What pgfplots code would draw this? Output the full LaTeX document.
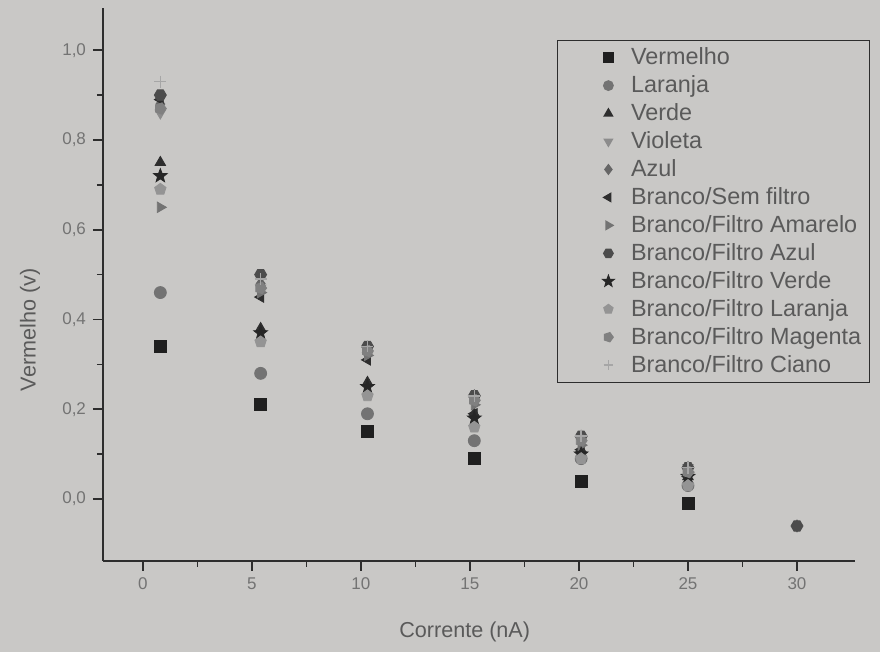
\documentclass[border=0pt]{standalone}
\usepackage{fontspec}
\setmainfont{Liberation Sans}
\usepackage{pgfplots}
\pgfplotsset{compat=1.18}
\definecolor{bg}{RGB}{201,200,198}
\definecolor{axc}{RGB}{45,45,45}
\definecolor{lblc}{RGB}{90,90,90}
\definecolor{tickc}{RGB}{115,115,115}
\pgfdeclareplotmark{hexagon*}{%
  \pgfpathmoveto{\pgfpointpolar{0}{\pgfplotmarksize}}%
  \pgfpathlineto{\pgfpointpolar{60}{\pgfplotmarksize}}%
  \pgfpathlineto{\pgfpointpolar{120}{\pgfplotmarksize}}%
  \pgfpathlineto{\pgfpointpolar{180}{\pgfplotmarksize}}%
  \pgfpathlineto{\pgfpointpolar{240}{\pgfplotmarksize}}%
  \pgfpathlineto{\pgfpointpolar{300}{\pgfplotmarksize}}%
  \pgfpathclose\pgfusepathqfillstroke}
\pgfdeclareplotmark{fstar}{%
  \pgfpathmoveto{\pgfpointpolar{90}{1.2\pgfplotmarksize}}%
  \pgfpathlineto{\pgfpointpolar{126}{0.5\pgfplotmarksize}}%
  \pgfpathlineto{\pgfpointpolar{162}{1.2\pgfplotmarksize}}%
  \pgfpathlineto{\pgfpointpolar{198}{0.5\pgfplotmarksize}}%
  \pgfpathlineto{\pgfpointpolar{234}{1.2\pgfplotmarksize}}%
  \pgfpathlineto{\pgfpointpolar{270}{0.5\pgfplotmarksize}}%
  \pgfpathlineto{\pgfpointpolar{306}{1.2\pgfplotmarksize}}%
  \pgfpathlineto{\pgfpointpolar{342}{0.5\pgfplotmarksize}}%
  \pgfpathlineto{\pgfpointpolar{18}{1.2\pgfplotmarksize}}%
  \pgfpathlineto{\pgfpointpolar{54}{0.5\pgfplotmarksize}}%
  \pgfpathclose\pgfusepathqfillstroke}
\begin{document}
\begin{tikzpicture}
\fill[bg] (0,0) rectangle (440pt,326pt);
\path[use as bounding box] (0,0) rectangle (440pt,326pt);
\begin{axis}[
  at={(51.5pt,45.5pt)}, anchor=south west,
  scale only axis, width=376pt, height=276.5pt,
  xmin=-1.83, xmax=32.66, ymin=-0.138, ymax=1.094,
  axis x line*=bottom, axis y line*=left,
  axis line style={axc, line width=0.8pt},
  tick align=outside,
  major tick length=5pt, minor tick length=3pt,
  every tick/.style={axc, line width=0.8pt},
  xtick={0,5,10,15,20,25,30},
  minor xtick={2.5,7.5,12.5,17.5,22.5,27.5},
  ytick={0,0.2,0.4,0.6,0.8,1.0},
  minor ytick={0.1,0.3,0.5,0.7,0.9},
  /pgf/number format/assume math mode=true,
  yticklabel style={/pgf/number format/.cd, fixed, fixed zerofill, precision=1, use comma},
  ticklabel style={font=\fontsize{8.5}{10}\selectfont, text=tickc},
  xlabel={Corrente (nA)}, ylabel={Vermelho (v)},
  label style={font=\fontsize{10.8}{12}\selectfont, text=lblc},
  xlabel style={at={(axis description cs:0.481,-0.128)}, anchor=center},
  ylabel style={at={(axis description cs:-0.097,0.418)}, anchor=center},
  legend style={at={(axis description cs:0.604,0.942)}, anchor=north west,
    draw=axc, line width=0.6pt, fill=none, text=lblc,
    font=\fontsize{11.7}{12}\selectfont, row sep=0pt,
    inner xsep=2pt, inner ysep=1.5pt},
  legend cell align=left,
  legend image code/.code={\path (0pt,0pt) (32pt,0pt);
    \draw[#1, only marks, mark size=2.4pt] plot coordinates {(23pt,0pt)};},
  only marks, mark size=3pt,
]
% Vermelho
\addplot[mark=square*, color=black!88, mark options={fill=black!88}] coordinates {(0.8,0.34) (5.4,0.21) (10.3,0.15) (15.2,0.09) (20.1,0.04) (25.0,-0.01)};
\addlegendentry{Vermelho}
% Laranja
\addplot[mark=*, color=black!55, mark options={fill=black!55}] coordinates {(0.8,0.46) (5.4,0.28) (10.3,0.19) (15.2,0.13) (20.1,0.09) (25.0,0.03)};
\addlegendentry{Laranja}
% Verde
\addplot[mark=triangle*, color=black!82, mark options={fill=black!82}] coordinates {(0.8,0.75) (5.4,0.38) (10.3,0.26) (15.2,0.19) (20.1,0.11) (25.0,0.05)};
\addlegendentry{Verde}
% Violeta
\addplot[mark=triangle*, color=black!45, mark options={fill=black!45, rotate=180}] coordinates {(0.8,0.86) (5.4,0.47) (10.3,0.32) (15.2,0.22) (20.1,0.13) (25.0,0.07)};
\addlegendentry{Violeta}
% Azul
\addplot[mark=diamond*, color=black!60, mark options={fill=black!60}] coordinates {(0.8,0.88) (5.4,0.48) (10.3,0.33) (15.2,0.23) (20.1,0.14) (25.0,0.07) (30.0,-0.06)};
\addlegendentry{Azul}
% Branco/Sem filtro
\addplot[mark=triangle*, color=black!82, mark options={fill=black!82, rotate=90}] coordinates {(0.8,0.89) (5.4,0.45) (10.3,0.31) (15.2,0.19) (20.1,0.11) (25.0,0.05)};
\addlegendentry{Branco/Sem filtro}
% Branco/Filtro Amarelo
\addplot[mark=triangle*, color=black!55, mark options={fill=black!55, rotate=-90}] coordinates {(0.8,0.65) (5.4,0.46) (10.3,0.32) (15.2,0.21) (20.1,0.12) (25.0,0.06)};
\addlegendentry{Branco/Filtro Amarelo}
% Branco/Filtro Azul
\addplot[mark=hexagon*, color=black!70, mark options={fill=black!70}] coordinates {(0.8,0.90) (5.4,0.50) (10.3,0.34) (15.2,0.23) (20.1,0.14) (25.0,0.07) (30.0,-0.06)};
\addlegendentry{Branco/Filtro Azul}
% Branco/Filtro Verde
\addplot[mark=fstar, color=black!85, mark options={fill=black!85}] coordinates {(0.8,0.72) (5.4,0.37) (10.3,0.25) (15.2,0.18) (20.1,0.10) (25.0,0.05)};
\addlegendentry{Branco/Filtro Verde}
% Branco/Filtro Laranja
\addplot[mark=pentagon*, color=black!42, mark options={fill=black!42}] coordinates {(0.8,0.69) (5.4,0.35) (10.3,0.23) (15.2,0.16) (20.1,0.09) (25.0,0.03)};
\addlegendentry{Branco/Filtro Laranja}
% Branco/Filtro Magenta
\addplot[mark=pentagon*, color=black!50, mark options={fill=black!50, rotate=-90}] coordinates {(0.8,0.87) (5.4,0.47) (10.3,0.33) (15.2,0.22) (20.1,0.13) (25.0,0.06)};
\addlegendentry{Branco/Filtro Magenta}
% Branco/Filtro Ciano
\addplot[mark=+, color=black!35, mark options={line width=0.8pt}] coordinates {(0.8,0.93) (5.4,0.49) (10.3,0.34) (15.2,0.23) (20.1,0.14) (25.0,0.07)};
\addlegendentry{Branco/Filtro Ciano}
\end{axis}
\end{tikzpicture}
\end{document}
